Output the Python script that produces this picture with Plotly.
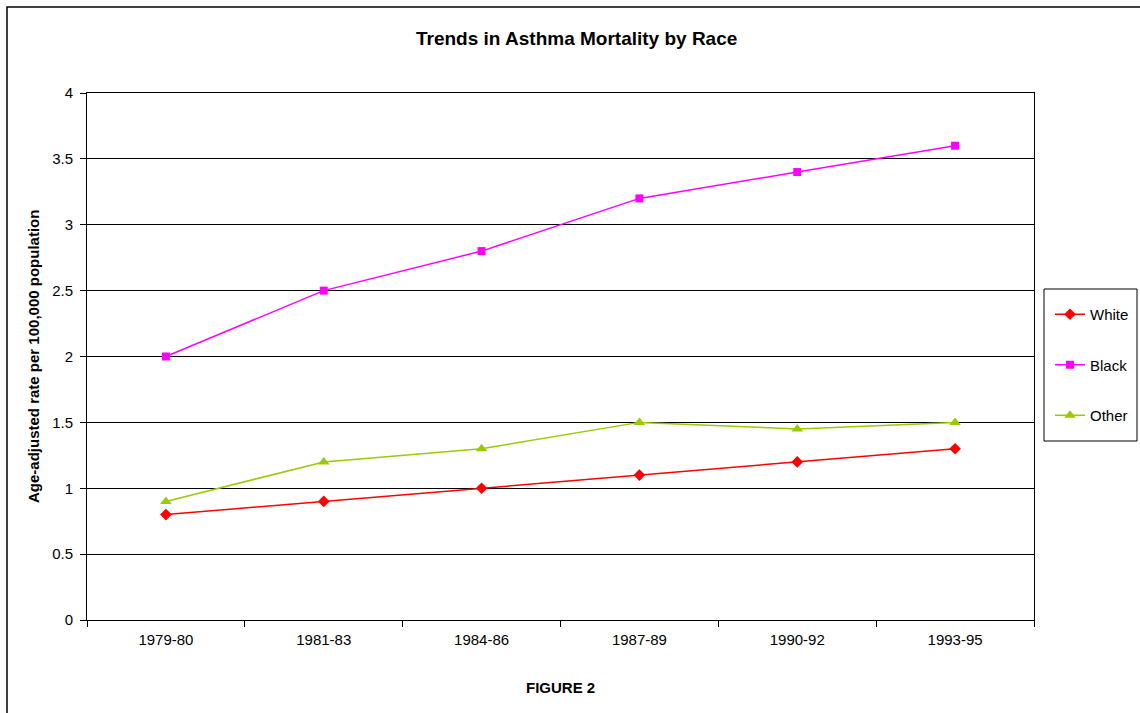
import plotly.graph_objects as go

# Age-adjusted asthma mortality rate per 100,000 population
periods = ["1979-80", "1981-83", "1984-86", "1987-89", "1990-92", "1993-95"]
white = [0.8, 0.9, 1.0, 1.1, 1.2, 1.3]
black = [2.0, 2.5, 2.8, 3.2, 3.4, 3.6]
other = [0.9, 1.2, 1.3, 1.5, 1.45, 1.5]

W, H = 1140, 713
L, R, T, B = 87, 1034, 93, 620  # plot area in pixels
FONT = "Arial, Liberation Sans, sans-serif"


def px_x(x):
    return (x - L) / (R - L)


def px_y(y):
    return (B - y) / (B - T)


fig = go.Figure()
series = [
    ("White", white, "#FF0000", "diamond", 9),
    ("Black", black, "#FF00FF", "square", 8),
    ("Other", other, "#99CC00", "triangle-up", 10),
]
for name, vals, color, symbol, size in series:
    fig.add_trace(go.Scatter(
        x=periods, y=vals, name=name, mode="lines+markers",
        line=dict(color=color, width=1.5),
        marker=dict(symbol=symbol, size=size, color=color),
        legendgroup=name,
    ))


def label(text, x, y, size, angle=0):
    return dict(text=text, x=px_x(x), y=px_y(y), xref="paper", yref="paper",
                xanchor="center", yanchor="middle", showarrow=False,
                textangle=angle, font=dict(size=size, color="#000"))


fig.update_layout(
    width=W, height=H,
    margin=dict(l=L, r=W - R, t=T, b=H - B, autoexpand=False),
    paper_bgcolor="white", plot_bgcolor="white",
    font=dict(family=FONT, size=15, color="#000"),
    showlegend=True,
    legend=dict(
        x=px_x(1050), y=px_y(298), xanchor="left", yanchor="top",
        borderwidth=0, bgcolor="rgba(0,0,0,0)",
        font=dict(size=15, color="#000"),
        tracegroupgap=28, itemwidth=30,
    ),
    xaxis=dict(
        type="category", range=[-0.5, 5.5], tickson="boundaries",
        ticks="outside", ticklen=6, tickcolor="#000", ticklabelstandoff=6,
        showline=True, linecolor="#000", linewidth=1, mirror=True,
        showgrid=False, tickfont=dict(size=15), automargin=False,
    ),
    yaxis=dict(
        range=[0, 4], dtick=0.5, tickmode="linear",
        ticks="outside", ticklen=6, tickcolor="#000", ticklabelstandoff=4,
        showline=True, linecolor="#000", linewidth=1, mirror=True,
        showgrid=True, gridcolor="#000", gridwidth=1,
        zeroline=False, tickfont=dict(size=15), automargin=False,
    ),
    annotations=[
        label("<b>Trends in Asthma Mortality by Race</b>", 576, 38, 19),
        label("<b>Age-adjusted rate per 100,000 population</b>", 33, 357, 15, -90),
        label("<b>FIGURE 2</b>", 560, 688, 15),
    ],
    shapes=[
        # outer chart frame
        dict(type="rect", xref="paper", yref="paper",
             x0=px_x(7), y0=px_y(720), x1=px_x(1150), y1=px_y(7),
             line=dict(color="#000", width=1.5), layer="below"),
        # legend frame
        dict(type="rect", xref="paper", yref="paper",
             x0=px_x(1044), y0=px_y(441), x1=px_x(1137), y1=px_y(289),
             line=dict(color="#000", width=1), layer="below"),
    ],
)

fig.write_html("out.html")
